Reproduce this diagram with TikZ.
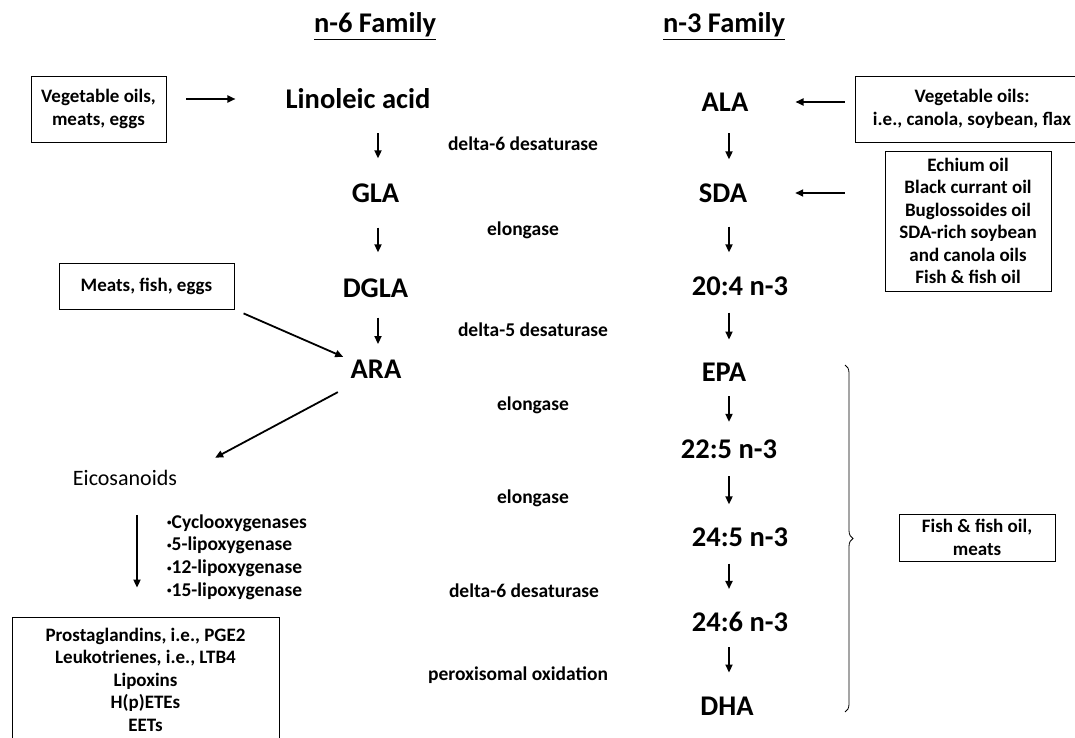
\documentclass[tikz,border=0pt]{standalone}
\usepackage{fontspec}
\setmainfont{Carlito}
\usetikzlibrary{arrows.meta,decorations.pathreplacing}

\newcommand{\blt}{\raisebox{2.5pt}{\fontsize{9}{9}\selectfont\textbullet}}

\begin{document}
\begin{tikzpicture}[x=1pt,y=-1pt,
    acid/.style={font=\fontsize{28.5}{32}\selectfont\bfseries,inner sep=0pt},
    enzyme/.style={font=\fontsize{19.5}{22}\selectfont\bfseries,inner sep=0pt},
    source/.style={draw,line width=0.8pt,align=center,inner sep=0pt,font=\fontsize{19}{22.5}\selectfont\bfseries},
    conv/.style={-{Triangle[length=8pt,width=7pt]},line width=1.8pt,shorten <=17pt,shorten >=23pt}]
        \useasboundingbox (0,0) rectangle (1075,738);
        \coordinate (colA) at (378,0);
        \coordinate (colB) at (729,0);
        \coordinate (colE) at (137,0);

        % family titles
        \node[font=\fontsize{28.5}{32}\selectfont\bfseries,anchor=base] at (375,33) (fam6) {\underline{n-6 Family}};
        \node[font=\fontsize{28.5}{32}\selectfont\bfseries,anchor=base] at (724,33) (fam3) {\underline{n-3 Family}};

        % n-6 chain
        \node[acid] at (358,99) (lin) {Linoleic acid};
        \node[acid] at (375.5,193) (gla) {GLA};
        \node[acid] at (375.5,288) (dgla) {DGLA};
        \node[acid] at (376,369.5) (ara) {ARA};

        % n-3 chain
        \node[acid] at (725,102) (ala) {ALA};
        \node[acid] at (723,193) (sda) {SDA};
        \node[acid] at (740,286) (n204) {20:4 n-3};
        \node[acid] at (724,372) (epa) {EPA};
        \node[acid] at (729,449.5) (n225) {22:5 n-3};
        \node[acid] at (740,537) (n245) {24:5 n-3};
        \node[acid] at (740,622) (n246) {24:6 n-3};
        \node[acid] at (727,706) (dha) {DHA};

        % enzymes
        \node[enzyme] at (523,144) (d6a) {delta-6 desaturase};
        \node[enzyme] at (523,230) (elo1) {elongase};
        \node[enzyme] at (533,330) (d5) {delta-5 desaturase};
        \node[enzyme] at (533,405) (elo2) {elongase};
        \node[enzyme] at (533,498) (elo3) {elongase};
        \node[enzyme] at (524,591) (d6b) {delta-6 desaturase};
        \node[enzyme] at (518,675) (perox) {peroxisomal oxidation};

        % sources
        \node[source,minimum width=135pt,minimum height=66pt] at (98.5,109) (vo6) {Vegetable oils,\\meats, eggs};
        \node[source,minimum width=175pt,minimum height=46pt] at (146.5,286) (meat) {Meats, fish, eggs};
        \node[source,minimum width=234pt,minimum height=66pt] at (972,109) (vo3) {Vegetable oils:\\i.e., canola, soybean, flax};
        \node[source,minimum width=166pt,minimum height=140pt] at (968,221) (ech) {Echium oil\\Black currant oil\\Buglossoides oil\\SDA-rich soybean\\and canola oils\\Fish \& fish oil};
        \node[source,minimum width=156pt,minimum height=47pt] at (977,537.5) (fish) {Fish \& fish oil,\\meats};

        % eicosanoids
        \node[font=\fontsize{22}{26}\selectfont,inner sep=0pt] at (125,478) (eico) {Eicosanoids};
        \node[font=\fontsize{19.5}{22.7}\selectfont\bfseries,inner sep=0pt,anchor=west,align=left] at (167,557) (lox)
            {\blt Cyclooxygenases\\\blt 5-lipoxygenase\\\blt 12-lipoxygenase\\\blt 15-lipoxygenase};
        \node[source,minimum width=267pt,minimum height=125pt] at (145.5,679.5) (prod)
            {Prostaglandins, i.e., PGE2\\Leukotrienes, i.e., LTB4\\Lipoxins\\H(p)ETEs\\EETs};

        % conversions
        \draw[conv,shorten <=24pt,shorten >=25pt] (lin.south -| colA) -- (gla.north -| colA);
        \draw[conv,shorten <=25pt,shorten >=26pt] (gla.south -| colA) -- (dgla.north -| colA);
        \draw[conv,shorten <=20pt,shorten >=16pt] (dgla.south -| colA) -- (ara.north -| colA);
        \draw[conv,shorten <=22pt,shorten >=24pt] (ala.south -| colB) -- (sda.north -| colB);
        \draw[conv,shorten <=24pt,shorten >=24pt] (sda.south -| colB) -- (n204.north -| colB);
        \draw[conv] (n204.south -| colB) -- (epa.north -| colB);
        \draw[conv,shorten <=15pt,shorten >=18pt] (epa.south -| colB) -- (n225.north -| colB);
        \draw[conv] (n225.south -| colB) -- (n245.north -| colB);
        \draw[conv] (n245.south -| colB) -- (n246.north -| colB);
        \draw[conv,shorten <=15pt,shorten >=24pt] (n246.south -| colB) -- (dha.north -| colB);

        % intake
        \draw[conv,shorten <=20pt,shorten >=50pt] (vo6.east |- lin.west) -- (lin.west);
        \draw[conv,shorten <=10pt,shorten >=47pt] (vo3.west |- ala.east) -- (ala.east);
        \draw[conv,shorten <=40pt,shorten >=48pt] (ech.west |- sda.east) -- (sda.east);
        \draw[conv,shorten <=10pt,shorten >=8pt] (meat.south east) -- (ara.north west);
        \draw[conv,shorten <=28pt,shorten >=43pt] (ara.215) -- (eico.east);
        \draw[conv,shorten <=29pt,shorten >=29pt] (eico.south -| colE) -- (prod.north -| colE);

        \draw[decorate,decoration={brace,amplitude=8pt},line width=0.8pt] (845,365) -- (845,712);
      \end{tikzpicture}
\end{document}
